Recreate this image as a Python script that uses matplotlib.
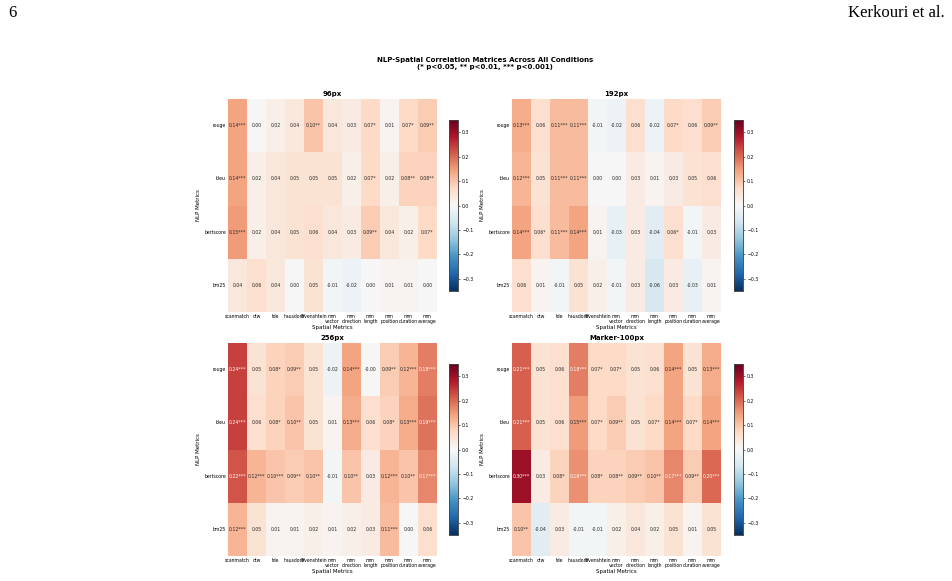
import numpy as np
import matplotlib
matplotlib.use("Agg")
import matplotlib.pyplot as plt
import seaborn as sns

nlp_metrics = ["rouge", "bleu", "bertscore", "bm25"]
spatial_metrics = ["scanmatch", "dtw", "tde", "hausdorff", "levenshtein",
                   "mm\nvector", "mm\ndirection", "mm\nlength", "mm\nposition",
                   "mm\nduration", "mm\naverage"]
conditions = ["96px", "192px", "256px", "Marker-100px"]

corr_96 = [[0.14, 0.00, 0.02, 0.04, 0.10, 0.04, 0.03, 0.07, 0.01, 0.07, 0.09],
           [0.14, 0.02, 0.04, 0.05, 0.05, 0.05, 0.02, 0.07, 0.02, 0.08, 0.08],
           [0.15, 0.02, 0.04, 0.05, 0.06, 0.04, 0.03, 0.09, 0.04, 0.02, 0.07],
           [0.04, 0.06, 0.04, 0.00, 0.05, -0.01, -0.02, 0.00, 0.01, 0.01, 0.00]]
stars_96 = [[3, 0, 0, 0, 2, 0, 0, 1, 0, 1, 2],
            [3, 0, 0, 0, 0, 0, 0, 1, 0, 2, 2],
            [3, 0, 0, 0, 0, 0, 0, 2, 0, 0, 1],
            [0, 0, 0, 0, 0, 0, 0, 0, 0, 0, 0]]

corr_192 = [[0.13, 0.06, 0.11, 0.11, -0.01, -0.02, 0.06, -0.02, 0.07, 0.06, 0.09],
            [0.12, 0.05, 0.11, 0.11, 0.00, 0.00, 0.03, 0.01, 0.03, 0.05, 0.06],
            [0.14, 0.06, 0.11, 0.14, 0.01, -0.03, 0.03, -0.04, 0.06, -0.01, 0.03],
            [0.06, 0.01, -0.01, 0.05, 0.02, -0.01, 0.03, -0.06, 0.03, -0.03, 0.01]]
stars_192 = [[3, 0, 3, 3, 0, 0, 0, 0, 1, 0, 2],
             [3, 0, 3, 3, 0, 0, 0, 0, 0, 0, 0],
             [3, 1, 3, 3, 0, 0, 0, 0, 1, 0, 0],
             [0, 0, 0, 0, 0, 0, 0, 0, 0, 0, 0]]

corr_256 = [[0.24, 0.05, 0.08, 0.09, 0.05, -0.02, 0.14, -0.0, 0.09, 0.12, 0.18],
            [0.24, 0.06, 0.08, 0.10, 0.05, 0.01, 0.13, 0.06, 0.08, 0.13, 0.19],
            [0.22, 0.12, 0.10, 0.09, 0.10, -0.01, 0.10, 0.03, 0.12, 0.10, 0.17],
            [0.12, 0.05, 0.01, 0.01, 0.02, 0.01, 0.02, 0.03, 0.11, 0.00, 0.06]]
stars_256 = [[3, 0, 1, 2, 0, 0, 3, 0, 2, 3, 3],
             [3, 0, 1, 2, 0, 0, 3, 0, 1, 3, 3],
             [3, 3, 3, 2, 2, 0, 2, 0, 3, 2, 3],
             [3, 0, 0, 0, 0, 0, 0, 0, 3, 0, 0]]

corr_marker = [[0.21, 0.05, 0.06, 0.18, 0.07, 0.07, 0.05, 0.06, 0.14, 0.05, 0.13],
               [0.21, 0.05, 0.06, 0.15, 0.07, 0.09, 0.05, 0.07, 0.14, 0.07, 0.14],
               [0.30, 0.03, 0.08, 0.16, 0.08, 0.08, 0.09, 0.10, 0.17, 0.09, 0.20],
               [0.10, -0.04, 0.03, -0.01, -0.01, 0.02, 0.04, 0.02, 0.05, 0.01, 0.05]]
stars_marker = [[3, 0, 0, 3, 1, 1, 0, 0, 3, 0, 3],
                [3, 0, 0, 3, 1, 2, 0, 1, 3, 1, 3],
                [3, 0, 1, 3, 1, 2, 2, 2, 3, 2, 3],
                [2, 0, 0, 0, 0, 0, 0, 0, 0, 0, 0]]

all_corr = [corr_96, corr_192, corr_256, corr_marker]
all_stars = [stars_96, stars_192, stars_256, stars_marker]

W, H = 952, 581
fig = plt.figure(figsize=(W / 100, H / 100), dpi=100)

def fx(px):
    return px / W

def fy(py):
    return 1 - py / H

# page header
fig.text(fx(8), fy(13), "6", fontsize=12, family="Liberation Serif", va="center", ha="left")
fig.text(fx(945), fy(13), "Kerkouri et al.", fontsize=12, family="Liberation Serif",
         va="center", ha="right")

fig.text(fx(485), fy(60), "NLP-Spatial Correlation Matrices Across All Conditions",
         fontsize=5, fontweight="bold", ha="center", va="center")
fig.text(fx(485), fy(67.5), "(* p<0.05, ** p<0.01, *** p<0.001)",
         fontsize=5, fontweight="bold", ha="center", va="center")

# panel positions (pixel): heatmap left, top; cbar left, top
hm_w, hm_h = 209, 213
cb_w, cb_h = 9, 171
panels = [(228, 99, 449, 120), (512, 99, 734, 120),
          (228, 343, 449, 364), (512, 343, 734, 364)]

for k, (cond, corr, stars) in enumerate(zip(conditions, all_corr, all_stars)):
    hl, ht, cl, ct = panels[k]
    ax = fig.add_axes([fx(hl), fy(ht + hm_h), hm_w / W, hm_h / H])
    cax = fig.add_axes([fx(cl), fy(ct + cb_h), cb_w / W, cb_h / H])
    vals = np.array(corr)
    annot = np.array([[f"{v:.2f}" + "*" * s for v, s in zip(rv, rs)]
                      for rv, rs in zip(corr, stars)])
    sns.heatmap(vals, ax=ax, cbar_ax=cax, cmap="RdBu_r", vmin=-0.35, vmax=0.35,
                annot=annot, fmt="", annot_kws={"fontsize": 3.3},
                xticklabels=spatial_metrics, yticklabels=nlp_metrics)
    ax.set_title(cond, fontsize=5, fontweight="bold", pad=2.5)
    ax.set_xlabel("Spatial Metrics", fontsize=4, labelpad=1)
    ax.set_ylabel("NLP Metrics", fontsize=4, labelpad=2)
    ax.tick_params(axis="both", length=0, labelsize=3.3, pad=1.5)
    plt.setp(ax.get_xticklabels(), rotation=0, ha="center", linespacing=1.0)
    plt.setp(ax.get_yticklabels(), rotation=0)
    cax.set_yticks([-0.3, -0.2, -0.1, 0.0, 0.1, 0.2, 0.3])
    cax.tick_params(labelsize=3.3, length=1.5, width=0.4, pad=1.5)
    for sp in cax.spines.values():
        sp.set_visible(True)
        sp.set_linewidth(0.5)
        sp.set_color("#444444")

fig.savefig("out.png", dpi=100)
